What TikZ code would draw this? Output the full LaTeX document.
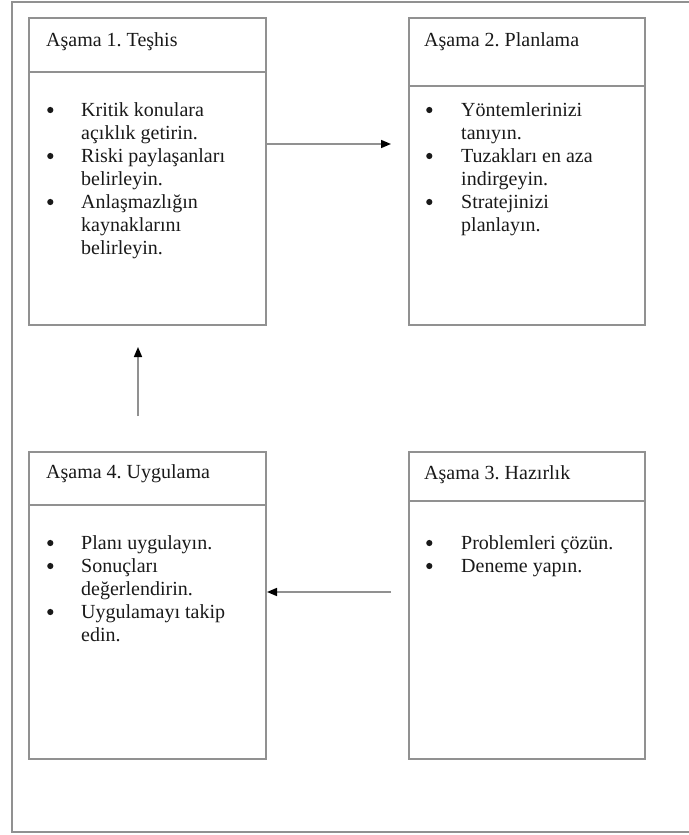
\documentclass[tikz,border=0pt]{standalone}
\usepackage{fontspec}
\setmainfont{Liberation Serif}
\newfontfamily\msf{Liberation Serif}
\usetikzlibrary{arrows.meta}
\definecolor{lineg}{RGB}{145,145,145}
\definecolor{txt}{RGB}{25,25,25}
\newcommand\bulmark{\tikz[baseline=0pt,x=1pt,y=1pt]\fill[txt] (3.2pt,6pt) circle (3.1pt);}
\frenchspacing
\begin{document}
\begin{tikzpicture}[x=1pt,y=-1pt,
  every node/.style={font=\msf\fontsize{20}{23}\selectfont, text=txt},
  boxst/.style={draw=lineg, line width=2pt, rectangle, inner sep=0pt, minimum height=307pt},
  divline/.style={draw=lineg, line width=2pt},
  ttl/.style={anchor=base west, inner sep=0pt},
  lst/.style={anchor=base west, inner sep=0pt},
  arr/.style={draw=lineg, line width=1.6pt, -{Triangle[length=10pt,width=8pt,color=black]}},
  framest/.style={draw=lineg, line width=2pt}]
\useasboundingbox (0,0) rectangle (688,835);
\draw[framest] (11.5,1.5) rectangle (720,831.5);

% boxes
\node[boxst, minimum width=237pt] (b1) at (147.5,171.5) {};
\node[boxst, minimum width=236pt] (b2) at (527,171.5) {};
\node[boxst, minimum width=236pt] (b3) at (527,605.5) {};
\node[boxst, minimum width=237pt] (b4) at (147.5,605.5) {};

% dividers
\coordinate (d1) at (0,72);
\coordinate (d2) at (0,86);
\coordinate (d3) at (0,501);
\coordinate (d4) at (0,505);
\draw[divline] (b1.west |- d1) -- (b1.east |- d1);
\draw[divline] (b2.west |- d2) -- (b2.east |- d2);
\draw[divline] (b3.west |- d3) -- (b3.east |- d3);
\draw[divline] (b4.west |- d4) -- (b4.east |- d4);

% titles
\node[ttl] (t1) at (46,46) {Aşama 1. Teşhis};
\node[ttl] (t2) at (424,46) {Aşama 2. Planlama};
\node[ttl] (t3) at (424,479) {Aşama 3. Hazırlık};
\node[ttl] (t4) at (46,478) {Aşama 4. Uygulama};

% lists
\node[lst] (l1) at (47,116) {\begin{tabular}[t]{@{}p{34pt}@{}l@{}}
\bulmark & Kritik konulara\\
 & açıklık getirin.\\
\bulmark & Riski paylaşanları\\
 & belirleyin.\\
\bulmark & Anlaşmazlığın\\
 & kaynaklarını\\
 & belirleyin.
\end{tabular}};
\node[lst] (l2) at (426,116) {\begin{tabular}[t]{@{}p{35pt}@{}l@{}}
\bulmark & Yöntemlerinizi\\
 & tanıyın.\\
\bulmark & Tuzakları en aza\\
 & indirgeyin.\\
\bulmark & Stratejinizi\\
 & planlayın.
\end{tabular}};
\node[lst] (l3) at (426,549) {\begin{tabular}[t]{@{}p{35pt}@{}l@{}}
\bulmark & Problemleri çözün.\\
\bulmark & Deneme yapın.
\end{tabular}};
\node[lst] (l4) at (47,549) {\begin{tabular}[t]{@{}p{34pt}@{}l@{}}
\bulmark & Planı uygulayın.\\
\bulmark & Sonuçları\\
 & değerlendirin.\\
\bulmark & Uygulamayı takip\\
 & edin.
\end{tabular}};

% connectors
\coordinate (a12) at (391,144);
\draw[arr] (b1.east |- a12) -- (a12);
\coordinate (a34s) at (391,592);
\draw[arr] (a34s) -- (b4.east |- a34s);
\coordinate (a41s) at (138,416);
\coordinate (a41e) at (138,347);
\draw[arr] (a41s) -- (a41e);
\end{tikzpicture}
\end{document}
